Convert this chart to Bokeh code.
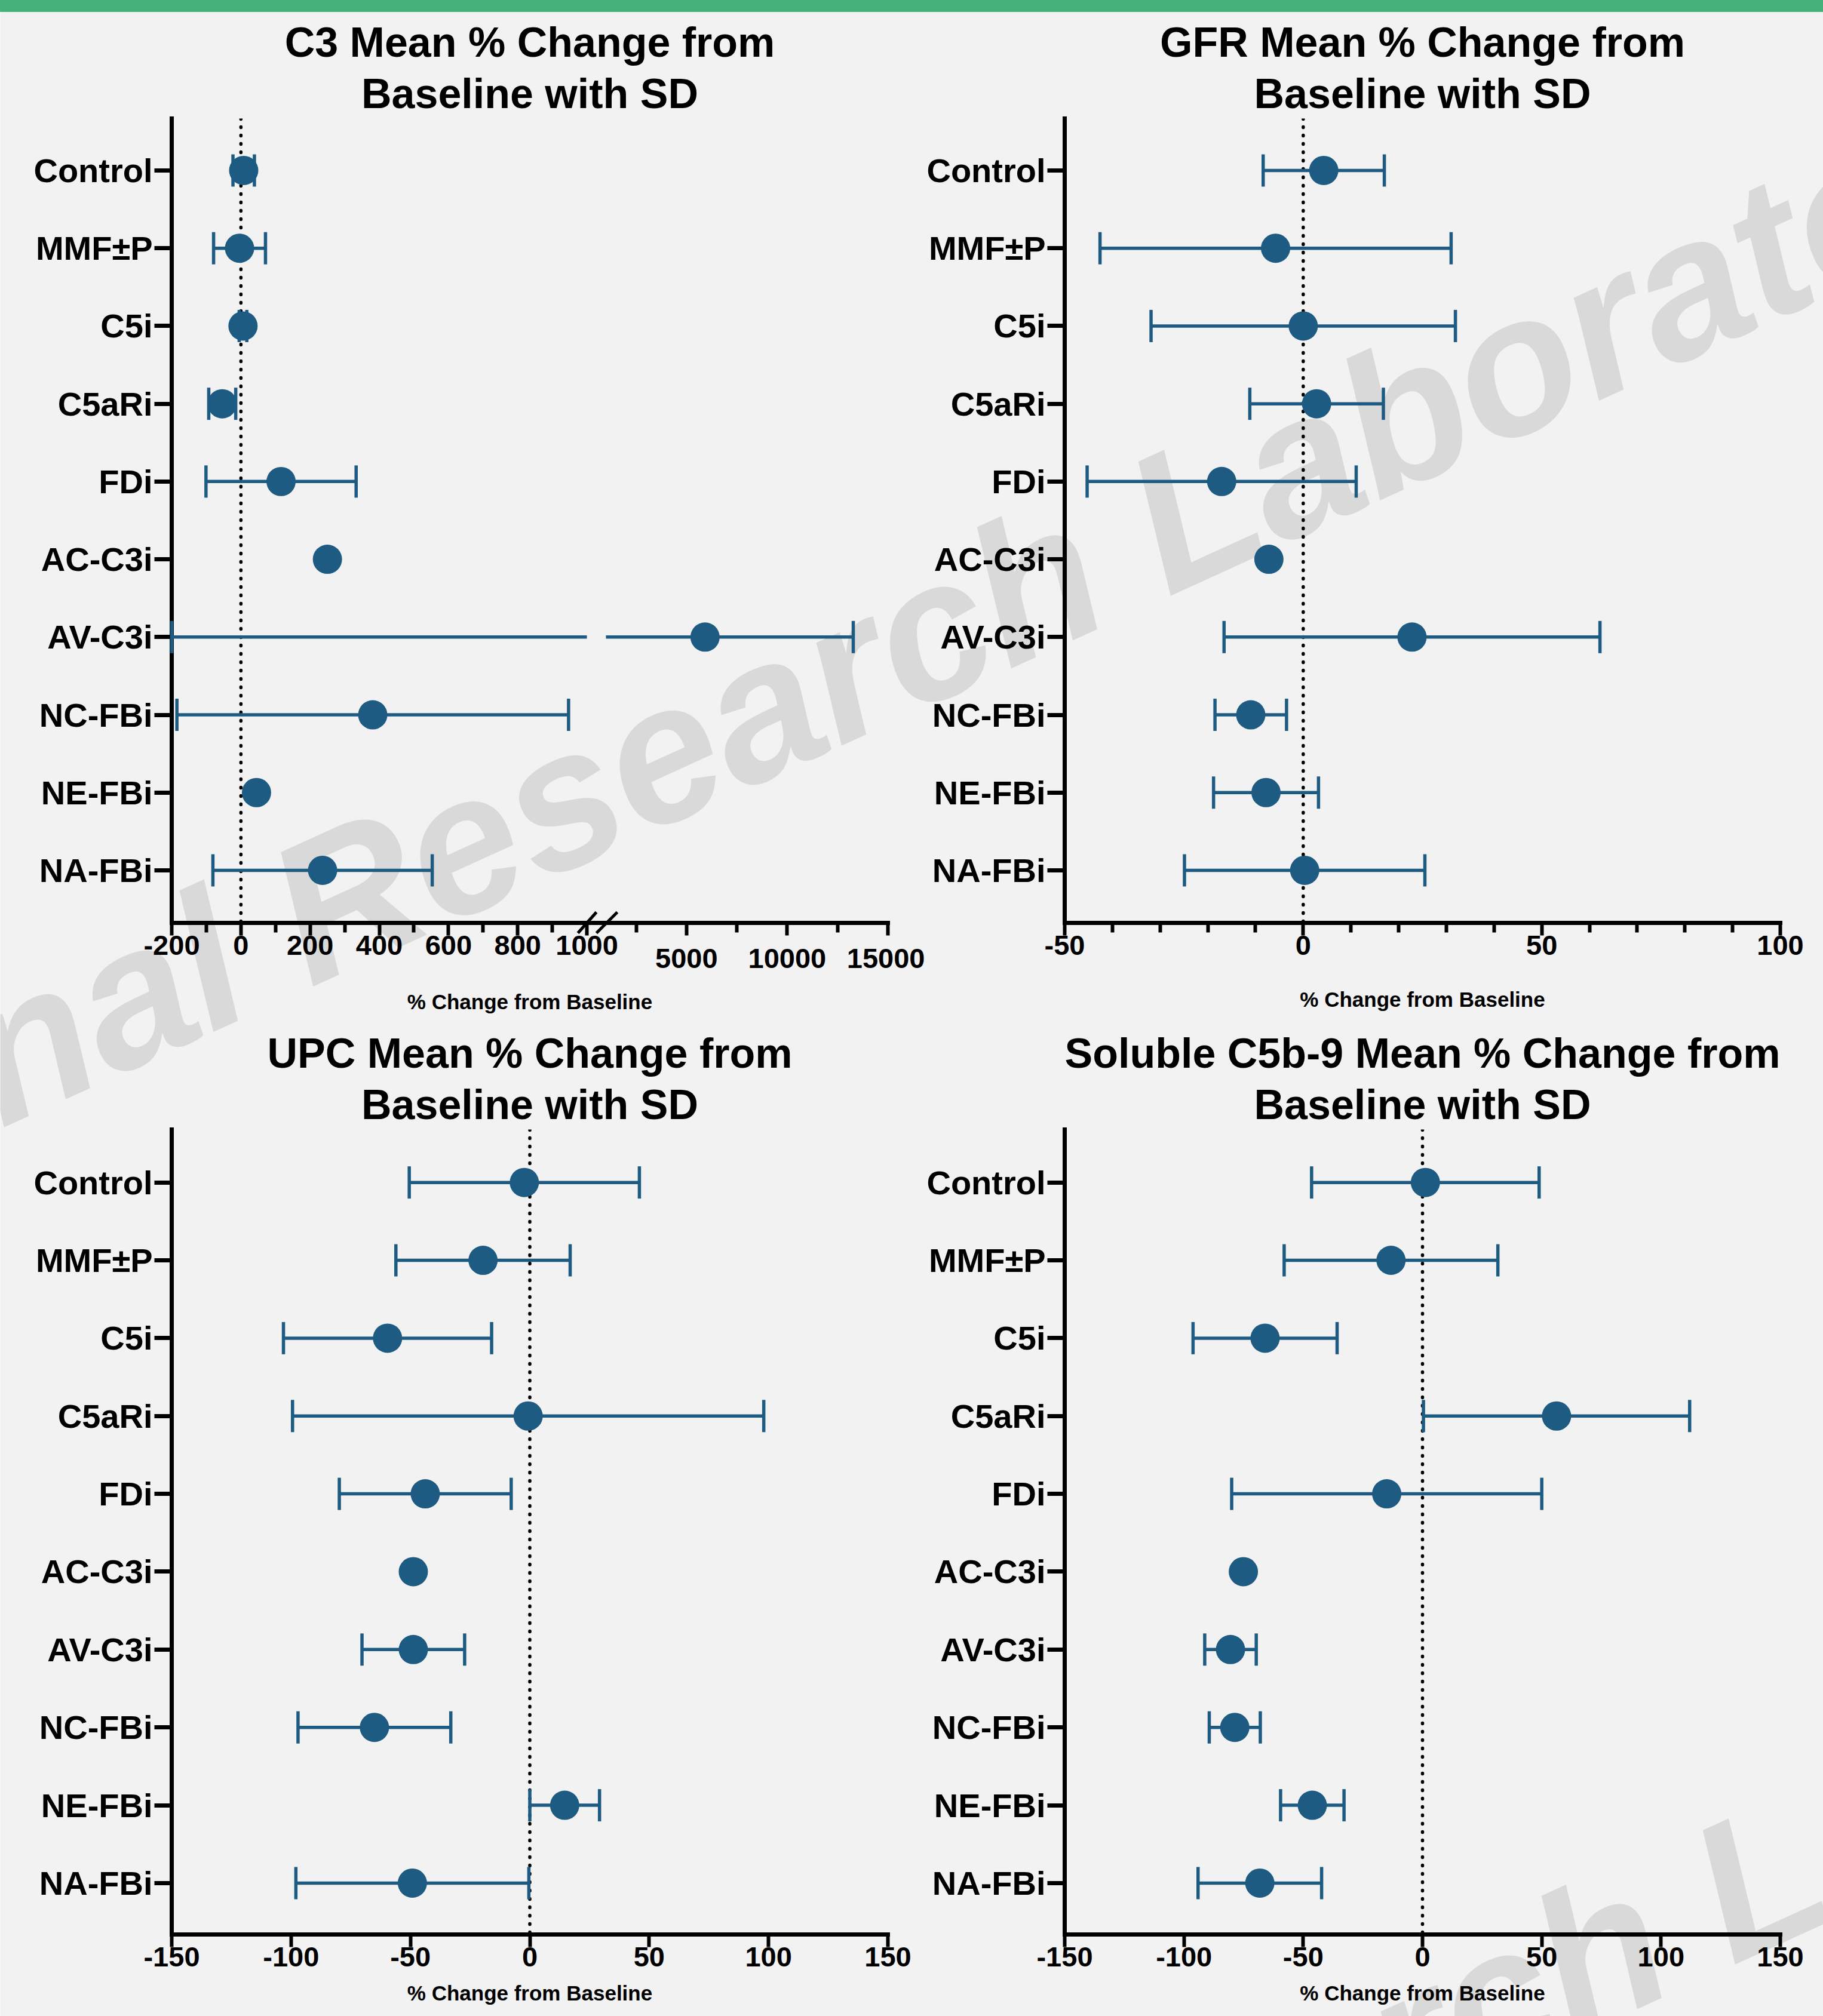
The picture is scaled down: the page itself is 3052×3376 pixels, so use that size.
import numpy as np
from bokeh.plotting import figure
from bokeh.models import (Range1d, FixedTicker, Span, ColumnDataSource, Div, Title, GridBox,
                          LinearAxis)
from bokeh.core.properties import value
from bokeh.layouts import column, row
from bokeh.embed import file_html
from bokeh.resources import INLINE

# ---- data -------------------------------------------------------------
nan = float("nan")
categories = ["Control", "MMF±P", "C5i", "C5aRi", "FDi",
              "AC-C3i", "AV-C3i", "NC-FBi", "NE-FBi", "NA-FBi"]

c3_mean = [8, -4, 6, -54, 116, 250, 5920, 381, 45, 236]
c3_sd = [31, 75, 11, 39, 217, nan, 7360, 566, nan, 317]

gfr_mean = [4.3, -5.8, 0.0, 2.8, -17.1, -7.2, 22.8, -11.0, -7.8, 0.3]
gfr_sd = [12.7, 36.8, 31.9, 14.0, 28.2, nan, 39.4, 7.5, 11.0, 25.2]

upc_mean = [-2.3, -19.6, -59.6, -0.7, -43.8, -48.8, -48.8, -65.1, 14.6, -49.2]
upc_sd = [48.2, 36.5, 43.6, 98.7, 36.0, nan, 21.5, 32.0, 14.6, 48.8]

c5b9_mean = [1.2, -13.2, -66.0, 56.2, -15.0, -75.1, -80.5, -78.7, -46.2, -68.2]
c5b9_sd = [47.7, 44.8, 30.2, 55.8, 65.0, nan, 10.8, 10.7, 13.3, 25.9]

# axis ticks
c3_major_low = [-200, 0, 200, 400, 600, 800, 1000]
c3_minor_low = [-100, 100, 300, 500, 700, 900]
c3_major_high = [5000, 10000, 15000]
c3_minor_high = [2500, 7500, 12500]
gfr_major = [-50, 0, 50, 100]
gfr_minor = [-40, -30, -20, -10, 10, 20, 30, 40, 60, 70, 80, 90]
pct_major = [-150, -100, -50, 0, 50, 100, 150]

titles = [("C3 Mean % Change from", "Baseline with SD"),
          ("GFR Mean % Change from", "Baseline with SD"),
          ("UPC Mean % Change from", "Baseline with SD"),
          ("Soluble C5b-9 Mean % Change from", "Baseline with SD")]
x_title = "% Change from Baseline"

# ---- style ------------------------------------------------------------
BG = "#f2f2f2"
INK = "#000000"
BLUE = "#1d5b82"
GREEN = "#45b07a"
FONT = "Liberation Sans"
WM_TEXT = "Internal Research Laboratory"
WM_COLOR = "#d9d9d9"
WM_X = [-697, 248]          # page position of each watermark line (baseline start)
WM_Y = [2082, 4374]
WM_ANGLE = np.deg2rad(24.5)

PAGE_W, PAGE_H, BAND_H = 3052, 3376, 20
LEFT_W = 1548                     # left column is wider so "15000" fits
RIGHT_W = PAGE_W - LEFT_W
TOP_H, BOT_H = 1700, 1656
LEFT_L, LEFT_R = 287, 62          # borders of the left-hand panels
RIGHT_L, RIGHT_R = 234, 72        # borders of the right-hand panels
TOP_T, TOP_B = 178, 175
BOT_T, BOT_B = 171, 137

rows_y = np.arange(1, len(categories) + 1)

# broken C3 axis: share of the axis length used by each part
LOW_SPAN, HIGH_SPAN = (-200, 1000), (1000, 15000)
LOW_FRAC, HIGH_FRAC = 0.5797, 0.3937
x1_end = LOW_SPAN[0] + (LOW_SPAN[1] - LOW_SPAN[0]) / LOW_FRAC
x2_start = HIGH_SPAN[1] - (HIGH_SPAN[1] - HIGH_SPAN[0]) / HIGH_FRAC


def high_to_low(v):
    f = (v - x2_start) / (HIGH_SPAN[1] - x2_start)
    return round(LOW_SPAN[0] + f * (x1_end - LOW_SPAN[0]), 4)


def style_labels(ax, size):
    ax.major_label_text_font = FONT
    ax.major_label_text_font_size = size
    ax.major_label_text_font_style = "bold"
    ax.major_label_text_color = INK


def style_axis_label(ax, standoff):
    ax.axis_label = x_title
    ax.axis_label_text_font = FONT
    ax.axis_label_text_font_size = "35px"
    ax.axis_label_text_font_style = "bold"
    ax.axis_label_text_color = INK
    ax.axis_label_standoff = standoff


def panel(title, x_range, y_range, width, height, left, right, top, bottom,
          major, minor, label_standoff, overrides=None, extra=None):
    p = figure(width=width, height=height, x_range=x_range, y_range=y_range,
               output_backend="svg", toolbar_location=None, title=None,
               min_border_left=left, min_border_right=right,
               min_border_top=top, min_border_bottom=bottom,
               background_fill_color=None, border_fill_color=None, outline_line_color=None)
    if extra:
        p.extra_x_ranges = extra
    p.grid.visible = False

    for text, standoff in ((title[1], 6), (title[0], 5)):
        p.add_layout(Title(text=text, align="center", text_font=FONT, text_font_size="70px",
                           text_font_style="bold", text_color=INK, standoff=standoff), "above")

    ya = p.yaxis[0]
    ya.ticker = FixedTicker(ticks=list(map(int, rows_y)), minor_ticks=[])
    ya.major_label_overrides = {int(r): c for r, c in zip(rows_y, categories)}
    ya.axis_line_width = 7
    ya.axis_line_color = INK
    ya.axis_line_cap = "square"
    ya.major_tick_out = 29
    ya.major_tick_in = 0
    ya.major_tick_line_width = 7
    ya.major_tick_line_color = INK
    ya.minor_tick_line_color = None
    style_labels(ya, "56px")
    ya.major_label_standoff = 3

    xa = p.xaxis[0]
    xa.ticker = FixedTicker(ticks=major, minor_ticks=minor)
    xa.major_label_overrides = overrides or {v: str(v) for v in major}
    xa.axis_line_width = 7
    xa.axis_line_color = INK
    xa.axis_line_cap = "square"
    xa.major_tick_out = 21
    xa.major_tick_in = 0
    xa.major_tick_line_width = 6
    xa.major_tick_line_color = INK
    xa.minor_tick_out = 16
    xa.minor_tick_in = 0
    xa.minor_tick_line_width = 6
    xa.minor_tick_line_color = INK
    style_labels(xa, "47px")
    xa.major_label_standoff = 0
    if label_standoff is not None:
        style_axis_label(xa, label_standoff)

    p.add_layout(Span(location=0, dimension="height", line_color=INK, line_width=5.5,
                      line_dash="1 13", line_cap="round", level="underlay"))
    return p


def draw(p, mean, lo, hi, lo_cap, hi_cap, range_name="default"):
    src = ColumnDataSource(dict(y=rows_y, m=mean, lo=lo, hi=hi, lc=lo_cap, hc=hi_cap))
    kw = dict(source=src, x_range_name=range_name, level="annotation")
    p.segment(x0="lo", y0="y", x1="hi", y1="y", line_color=BLUE, line_width=5.5, **kw)
    for col in ("lc", "hc"):
        p.rect(x=col, y="y", width=5.5, height=54, width_units="screen",
               height_units="screen", fill_color=BLUE, line_color=None, **kw)
    p.scatter(x="m", y="y", size=49, fill_color=BLUE, line_color=None, **kw)


def draw_simple(p, mean, sd):
    m = np.array(mean, dtype=float)
    s = np.array(sd, dtype=float)
    draw(p, m, m - s, m + s, m - s, m + s)


top_y = lambda: Range1d(10.676, 0.332)
bot_y = lambda: Range1d(10.66, 0.32)

# ---- C3 (broken x axis) -----------------------------------------------
# the first axis carries every tick mark and the labels of the low part,
# a second axis on the high range carries the staggered high labels
c3_overrides = {v: str(v) for v in c3_major_low}
c3_overrides.update({high_to_low(v): "" for v in c3_major_high})
p_c3 = panel(titles[0], Range1d(LOW_SPAN[0], x1_end), top_y(), LEFT_W, TOP_H,
             LEFT_L, LEFT_R, TOP_T, TOP_B,
             c3_major_low + [high_to_low(v) for v in c3_major_high],
             c3_minor_low + [high_to_low(v) for v in c3_minor_high],
             None, overrides=c3_overrides,
             extra={"high": Range1d(x2_start, HIGH_SPAN[1])})
hx = LinearAxis(x_range_name="high", ticker=FixedTicker(ticks=c3_major_high, minor_ticks=[]),
                major_label_overrides={v: str(v) for v in c3_major_high},
                axis_line_color=None, major_tick_line_color=None, minor_tick_line_color=None,
                major_tick_in=0, major_tick_out=0, minor_tick_in=0, minor_tick_out=0,
                major_label_standoff=-13)
style_labels(hx, "47px")
style_axis_label(hx, 34)
p_c3.add_layout(hx, "below")

m = np.array(c3_mean, dtype=float)
s = np.array(c3_sd, dtype=float)
lo, hi = m - s, m + s
brk, ax0 = LOW_SPAN[1], LOW_SPAN[0]
with np.errstate(invalid="ignore"):
    left_bar = lo < brk
    draw(p_c3,
         np.where(m <= brk, m, nan),
         np.where(left_bar, np.maximum(lo, ax0), nan),
         np.where(left_bar, np.minimum(hi, brk), nan),
         np.where(left_bar, np.maximum(lo, ax0), nan),
         np.where(hi <= brk, hi, nan))
    right_bar = hi > brk
    draw(p_c3,
         np.where(m > brk, m, nan),
         np.where(right_bar, np.maximum(lo, brk), nan),
         np.where(right_bar, hi, nan),
         np.where(lo > brk, lo, nan),
         np.where(right_bar, hi, nan),
         range_name="high")

# ---- GFR ---------------------------------------------------------------
p_gfr = panel(titles[1], Range1d(-50, 100), top_y(), RIGHT_W, TOP_H,
              RIGHT_L, RIGHT_R, TOP_T, TOP_B, gfr_major, gfr_minor, 52)
draw_simple(p_gfr, gfr_mean, gfr_sd)

# ---- UPC ---------------------------------------------------------------
p_upc = panel(titles[2], Range1d(-150, 150), bot_y(), LEFT_W, BOT_H,
              LEFT_L, LEFT_R, BOT_T, BOT_B, pct_major, [], 22)
draw_simple(p_upc, upc_mean, upc_sd)

# ---- soluble C5b-9 -----------------------------------------------------
p_c5 = panel(titles[3], Range1d(-150, 150), bot_y(), RIGHT_W, BOT_H,
             RIGHT_L, RIGHT_R, BOT_T, BOT_B, pct_major, [], 22)
draw_simple(p_c5, c5b9_mean, c5b9_sd)

# ---- backdrop: page fill, watermark and the C3 axis-break marks -------
back = figure(width=PAGE_W, height=PAGE_H, x_range=Range1d(0, PAGE_W),
              y_range=Range1d(PAGE_H, 0), x_axis_type=None, y_axis_type=None,
              output_backend="svg", toolbar_location=None, min_border=0,
              background_fill_color=BG, border_fill_color=BG, outline_line_color=None)
back.text(x=WM_X, y=WM_Y, text=[WM_TEXT] * len(WM_X), angle=WM_ANGLE,
          text_font=value(FONT), text_font_style="bold italic", text_font_size="330px",
          text_color=WM_COLOR, text_align="left", text_baseline="alphabetic")

frame_w = LEFT_W - LEFT_L - LEFT_R
axis_y = BAND_H + TOP_H - TOP_B
brk_mid = LEFT_L + frame_w * (LOW_FRAC + 1 - HIGH_FRAC) / 2
back.segment(x0=[brk_mid - 31, brk_mid], y0=[axis_y + 17, axis_y + 17],
             x1=[brk_mid, brk_mid + 35], y1=[axis_y - 18, axis_y - 18],
             line_color=INK, line_width=5)

band = Div(text="", width=PAGE_W, height=BAND_H,
           styles={"background-color": GREEN, "margin": "0"})

front = column(band, row(p_c3, p_gfr, spacing=0), row(p_upc, p_c5, spacing=0), spacing=0)
layout = GridBox(children=[(back, 0, 0), (front, 0, 0)])

open("out.html", "w").write(file_html(layout, INLINE, title="Mean % change from baseline"))
